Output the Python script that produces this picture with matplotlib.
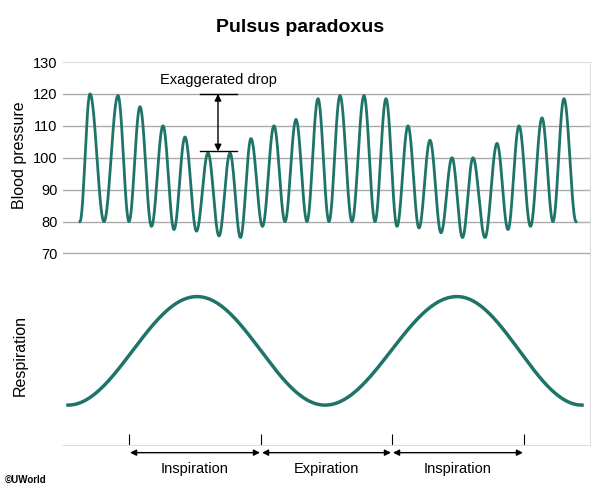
import numpy as np
import matplotlib.pyplot as plt
from matplotlib.transforms import blended_transform_factory

plt.rcParams["font.family"] = "Liberation Sans"

# Blood pressure waveform extremes (x position, value), alternating trough/peak
peak_x = [90, 118, 140, 163, 185, 208, 230, 251, 274, 296, 318, 340, 364, 386, 408, 430, 452, 473, 497, 519, 542, 564]
peak_v = [120, 119.5, 116, 110, 106.5, 101.5, 101.5, 106, 110, 112, 118.5, 119.5, 119.5, 118.5, 110, 105.5, 100, 100, 104.5, 110, 112.5, 118.5]
trough_v = [80, 80, 80, 78.5, 77.5, 77, 75.5, 75, 78.5, 80, 80, 80, 80, 80, 78.5, 78, 76.5, 75, 75, 77.5, 78.5, 80, 80]
start_x, end_x = 80, 576

# Respiration curve extremes
resp_x = [68, 197, 325, 457, 582]
resp_v = [22.5, 56.5, 22.5, 56.5, 22.5]

phase_ticks = [129, 261, 392, 524]
phase_labels = ["Inspiration", "Expiration", "Inspiration"]
yticks = [70, 80, 90, 100, 110, 120, 130]

color = "#1e7468"

def cos_interp(xs, vs, n=60):
    X, Y = [], []
    for i in range(len(xs) - 1):
        t = np.linspace(0, 1, n, endpoint=False)
        s = (1 - np.cos(np.pi * t)) / 2
        X.append(xs[i] + (xs[i+1] - xs[i]) * t)
        Y.append(vs[i] + (vs[i+1] - vs[i]) * s)
    X.append([xs[-1]]); Y.append([vs[-1]])
    return np.concatenate(X), np.concatenate(Y)

ex_x = []
ex_v = []
tx = [start_x] + [(peak_x[i] + peak_x[i+1]) / 2 for i in range(len(peak_x) - 1)] + [end_x]
for i in range(len(peak_x)):
    ex_x += [tx[i], peak_x[i]]
    ex_v += [trough_v[i], peak_v[i]]
ex_x.append(tx[-1]); ex_v.append(trough_v[-1])

fig = plt.figure(figsize=(6, 4.9), dpi=100)
ax = fig.add_axes([63/600, 45/490, 527/600, 383/490])
ax.set_xlim(63, 590)
ax.set_ylim(10, 130)
for y in yticks[:-1]:
    ax.axhline(y, color="#aaaaaa", lw=1, zorder=0)

bx, by = cos_interp(ex_x, ex_v)
ax.plot(bx, by, color=color, lw=2)
rx, ry = cos_interp(resp_x, resp_v, n=200)
ax.plot(rx, ry, color=color, lw=2.5)

ax.set_yticks(yticks)
ax.tick_params(axis="y", length=0, labelsize=10.5, pad=4)
ax.set_xticks(phase_ticks)
ax.tick_params(axis="x", direction="in", length=8, labelbottom=False, color="black")
ax.spines["left"].set_visible(False)
for s in ["right", "bottom", "top"]:
    ax.spines[s].set_color("#dddddd")

# annotation
ax.plot([200, 237], [120, 120], color="black", lw=1)
ax.plot([200, 237], [102, 102], color="black", lw=1)
ax.annotate("", xy=(218, 120), xytext=(218, 102),
            arrowprops=dict(arrowstyle="<|-|>", color="black", lw=1, mutation_scale=10, shrinkA=0, shrinkB=0))
ax.text(218, 124.5, "Exaggerated drop", ha="center", va="center", fontsize=10.5)

tr = blended_transform_factory(ax.transData, ax.transAxes)
for i, lab in enumerate(phase_labels):
    a, b = phase_ticks[i], phase_ticks[i+1]
    ax.annotate("", xy=(a + 1, -0.02), xytext=(b - 1, -0.02), xycoords=tr, textcoords=tr,
                arrowprops=dict(arrowstyle="<|-|>", color="black", lw=1, mutation_scale=9, shrinkA=0, shrinkB=0),
                annotation_clip=False)
    ax.text((a + b) / 2, -0.062, lab, transform=tr, ha="center", va="center", fontsize=10.5)

fig.text(20/600, 1 - 155/490, "Blood pressure", rotation=90, ha="center", va="center", fontsize=11.5)
fig.text(20/600, 1 - 355/490, "Respiration", rotation=90, ha="center", va="center", fontsize=11.5)
fig.text(300/600, 1 - 28/490, "Pulsus paradoxus", ha="center", va="center", fontsize=14, fontweight="bold")
fig.text(5/600, 1 - 480/490, "©UWorld", ha="left", va="center", fontsize=7, fontweight="bold")

fig.savefig("out.png", dpi=100)
